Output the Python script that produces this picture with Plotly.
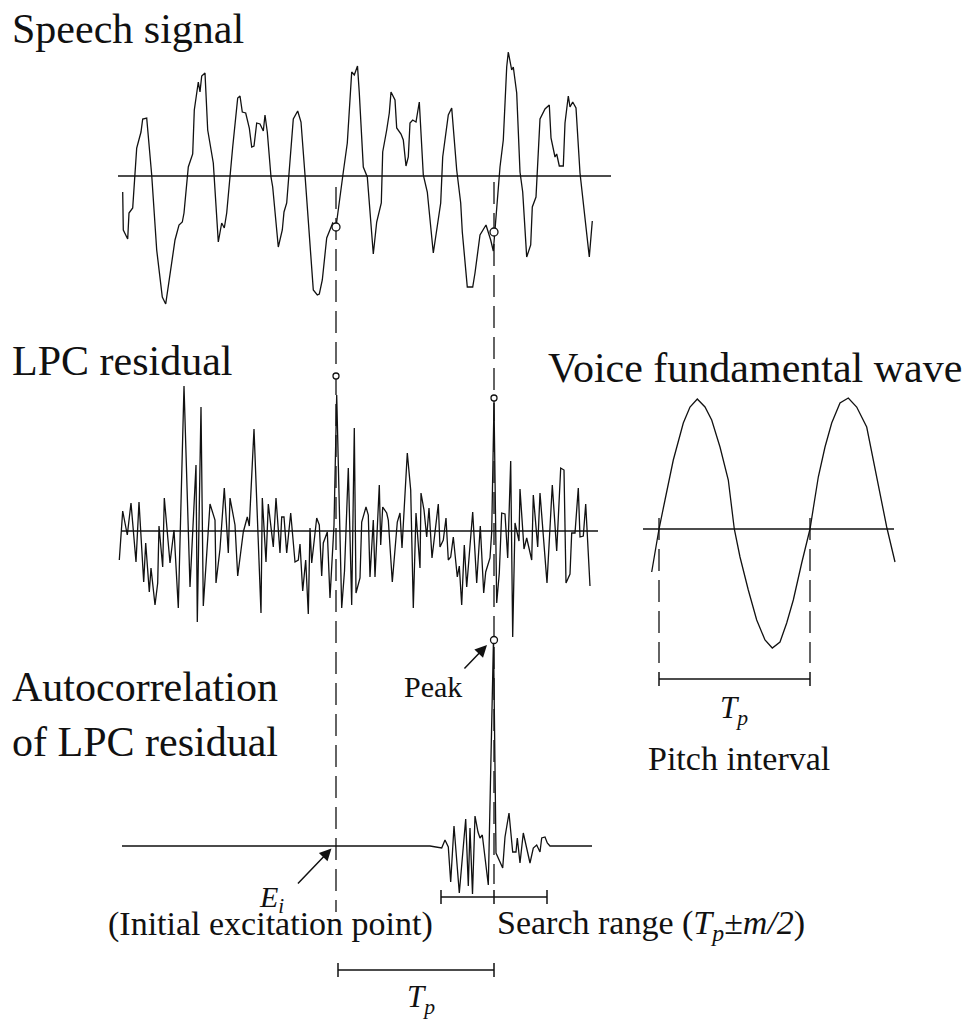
import plotly.graph_objects as go

FONT = "Liberation Serif, Times New Roman, DejaVu Serif, serif"
INK = "#111111"

# ---------------- data ----------------
# Speech signal: sample time and amplitude
speech_t = [0.7, 1.3, 5.7, 7, 10.7, 14.7, 19, 20.7, 24.7, 29.7,
            34.7, 40.3, 43.7, 48, 53, 57, 60.3, 62, 66.3, 70.7,
            72.3, 76.3, 78, 79.7, 83, 85.7, 91.3, 96.3, 99.7, 102.3,
            104.7, 110.7, 115.7, 118, 120.3, 123.7, 127.3, 129.7, 132, 134.7,
            138, 141.3, 143, 145.3, 149, 150.7, 156.3, 160.3, 162, 164.7,
            171.3, 175.7, 179, 183, 186.3, 191.3, 195.3, 197.3, 200.3, 204.7,
            210.7, 214, 221.3, 225.3, 229.7, 232.3, 235.5, 237.3, 241.3, 245.3,
            251.3, 254.7, 259.3, 260.7, 264.7, 267.3, 269, 273, 274.7, 279,
            281.3, 284, 286.3, 288, 290.7, 294, 297.3, 301.3, 305.3, 311.3,
            318.7, 320.7, 326.3, 329.7, 334.7, 338.7, 340.3, 345.3, 350.7, 353,
            358, 364, 368.7, 371.3, 378, 381.3, 384.7, 386.3, 389.7, 391.3,
            394.7, 398, 400.7, 404.7, 408.7, 410.3, 414, 418, 423, 427.3,
            429, 433, 434.7, 437.3, 441.3, 443, 446.3, 448, 450.7, 454,
            458, 463, 467.3, 470.3]
speech_v = [-16, -54, -63, -37, -32, 28, 44, 57, 58, 1,
            -74, -121, -128, -97, -64, -49, -46, -37, 9, 22,
            66, 94, 84, 100, 103, 46, 13, -66, -47, -52,
            -37, 29, 78, 80, 64, 63, 48, 29, 30, 53,
            52, 45, 61, 44, -1, -11, -71, -54, -36, -27,
            57, 65, 54, 1, -46, -114, -119, -118, -104, -62,
            -47, -51, 4, 33, 104, 101, 110, 83, 9, -1,
            -78, -46, -27, 24, 46, 63, 84, 76, 48, 42,
            36, 10, 19, 53, 56, 54, 74, 1, -16, -77,
            -27, 19, 61, 68, 6, -27, -56, -111, -111, -97,
            -59, -49, -64, -75, 9, 36, 109, 124, 106, 109,
            83, 4, -16, -81, -69, -31, -21, 57, 67, 71,
            38, 19, 22, 10, 10, 53, 80, 69, 74, 68,
            3, -44, -81, -45]

# LPC residual: (sample time, amplitude)
residual = [(-2.7, -29), (0.7, 20), (5.3, -4), (9, 28), (14, -31), (17, 29),
            (21.7, -51), (23.7, -12), (27.3, -61), (29, -37), (33, -74),
            (35.7, -52), (37, 5), (40.7, -36), (42.3, 33), (48, -32), (52, 1),
            (56.3, -77), (62, 145), (68, -56), (74, 66), (75.3, -91), (79, 124),
            (81.3, -75), (88, 27), (93, 11), (94, -52), (98, -18), (102.3, 43),
            (106.3, -22), (108, 33), (113, 6), (115.7, -45), (121.3, -1),
            (125.3, 14), (127.3, 5), (132, 102), (139, -82), (140.3, 33),
            (144, -31), (146.3, 27), (151.3, -16), (154, 33), (158, -22),
            (159.7, 14), (162, 14), (164.7, -22), (168.7, 18), (173, -31),
            (176.3, -29), (178, -13), (180.7, -60), (183.7, -29), (186.3, -83),
            (188, 3), (189.7, -32), (194.7, 13), (197.3, 6), (199.7, -45),
            (201.3, -12), (205.3, -1), (208, -67), (212, 6), (214.7, 136),
            (219.7, -77), (222.5, -40), (226.3, 63), (229.7, -74), (232.3, 103),
            (234, -62), (238, -47), (239.7, 9), (244, 24), (246.3, 16),
            (248, -46), (251.3, 11), (253, -46), (257.3, 46), (258.7, -14),
            (260.7, 24), (264.7, 18), (266.3, 11), (270.3, -51), (275.3, 9),
            (278, 18), (280, -17), (285.3, 78), (288.7, 41), (291.3, -77),
            (294, 18), (298, -37), (299, 38), (302, 21), (304.7, -6), (307, 23),
            (310, -27), (316.3, 27), (318, -16), (321.3, -9), (324, 13),
            (326.3, -29), (328.7, -26), (331.3, -6), (335.3, -46), (337.3, -35),
            (339.7, -74), (342.3, -14), (344.7, -56), (350.7, 19), (354.7, -52),
            (358.3, 5), (361.7, -62), (363.7, -41), (368, -27), (369.7, -1),
            (372, 128), (374.7, -72), (377.3, -42), (379.7, 18), (383, 17),
            (385.7, -27), (388.7, 70), (390.7, -106), (393, 8), (397, -10),
            (398, 42), (402, -18), (404.7, -7), (409.7, -29), (411.3, 36),
            (415.7, -16), (418, 38), (425, -52), (430.3, 46), (434.7, -20),
            (438.7, 63), (442, 61), (444, -52), (448, -43), (449.7, -2),
            (453, -2), (456.3, 43), (458, -6), (461.3, -5), (463.7, 27),
            (468, -55)]

# Autocorrelation of the LPC residual: (lag, value)
autocorr = [(0, 0), (308, 0), (319.7, -2), (323, 6), (326.3, -1), (328.7, -36),
            (332, 20), (337.3, -47), (343.7, 27), (346.3, -40), (348, 18),
            (350.5, -48), (353, 30), (356, 14), (358, 8), (360.3, 11),
            (366.3, -39), (371.5, 208), (374, -7), (376.3, -12), (380.7, -22),
            (383, 9), (387, 33), (390.7, -6), (394, -6), (395.3, 8), (398, -17),
            (401.3, 13), (404, 1), (408, -17), (411.3, -2), (414.7, 1),
            (418, -6), (419.7, 8), (423, 9), (425.3, 3), (428, 0), (470, 0)]

# Voice fundamental wave: (time, amplitude)
fundamental = [(-7.3, -43), (0, 0), (6, 29), (14.3, 69), (24.3, 106), (31, 122),
               (38.3, 130), (46, 122), (52.7, 109), (61, 82), (69.3, 49),
               (75.3, 0), (81, -28), (89.3, -61), (97.7, -91), (106, -111),
               (113.3, -119), (121, -113), (127.7, -94), (134.3, -71),
               (142.7, -34), (151, 0), (159.3, 52), (166, 82), (172.7, 106),
               (181, 126), (189.3, 131), (197.7, 122), (207.7, 102), (214.3, 69),
               (221, 36), (227.7, 2), (236, -33)]

excitation_t = 214          # E_i, initial excitation point
pitch_t = 372               # E_i + T_p, autocorrelation peak
search_half = 53            # m/2
speech_marks = [(214, -51), (372, -56)]
residual_marks = [(214, 155), (372, 133)]
autocorr_peak = (372, 206)
fund_period = (0, 151)      # two zero crossings one pitch interval apart

# ---------------- figure ----------------
W, H = 971, 1027
fig = go.Figure()

wave = dict(color=INK, width=1.3)
res_t, res_v = zip(*residual)
ac_t, ac_v = zip(*autocorr)
fu_t, fu_v = zip(*fundamental)

fig.add_trace(go.Scatter(x=speech_t, y=speech_v, mode="lines", line=wave,
                         xaxis="x2", yaxis="y2", hoverinfo="skip"))
fig.add_trace(go.Scatter(x=res_t, y=res_v, mode="lines", line=wave,
                         xaxis="x2", yaxis="y3", hoverinfo="skip"))
fig.add_trace(go.Scatter(x=ac_t, y=ac_v, mode="lines", line=wave,
                         xaxis="x2", yaxis="y4", hoverinfo="skip"))
fig.add_trace(go.Scatter(x=fu_t, y=fu_v, mode="lines", line=wave,
                         xaxis="x3", yaxis="y5", hoverinfo="skip"))

marker = dict(symbol="circle", color="white", line=dict(color=INK, width=1.3))
fig.add_trace(go.Scatter(x=[p[0] for p in speech_marks], y=[p[1] for p in speech_marks],
                         mode="markers", marker=dict(size=8, **marker),
                         xaxis="x2", yaxis="y2", hoverinfo="skip"))
fig.add_trace(go.Scatter(x=[p[0] for p in residual_marks], y=[p[1] for p in residual_marks],
                         mode="markers", marker=dict(size=6, **marker),
                         xaxis="x2", yaxis="y3", hoverinfo="skip"))
fig.add_trace(go.Scatter(x=[autocorr_peak[0]], y=[autocorr_peak[1]],
                         mode="markers", marker=dict(size=7, **marker),
                         xaxis="x2", yaxis="y4", hoverinfo="skip"))

shapes = []
base = dict(color=INK, width=1.5)
# zero lines of each panel
shapes.append(dict(type="line", xref="x2", yref="y2", x0=-4, x1=489, y0=0, y1=0, line=base))
shapes.append(dict(type="line", xref="x2", yref="y3", x0=-1, x1=476, y0=0, y1=0, line=base))
shapes.append(dict(type="line", xref="x3", yref="y5", x0=-16, x1=235, y0=0, y1=0, line=base))

dash = dict(color=INK, width=1.3, dash="22px,9px")
shapes.append(dict(type="line", xref="x2", yref="y", x0=excitation_t, x1=excitation_t,
                   y0=187, y1=912, line=dash, layer="below"))
shapes.append(dict(type="line", xref="x2", yref="y", x0=pitch_t, x1=pitch_t,
                   y0=182, y1=884, line=dash, layer="below"))
for u in fund_period:
    shapes.append(dict(type="line", xref="x3", yref="y", x0=u, x1=u,
                       y0=518, y1=663, line=dash))


def bracket(xref, a, b, y, ticks):
    out = [dict(type="line", xref=xref, yref="y", x0=a, x1=b, y0=y, y1=y, line=base)]
    for t in ticks:
        out.append(dict(type="line", xref=xref, yref="y", x0=t, x1=t,
                        y0=y - 7, y1=y + 7, line=base))
    return out


shapes += bracket("x3", fund_period[0], fund_period[1], 679, fund_period)
shapes += bracket("x2", pitch_t - search_half, pitch_t + search_half, 897,
                  [pitch_t - search_half, pitch_t, pitch_t + search_half])
shapes += bracket("x2", excitation_t + 2, pitch_t, 970, [excitation_t + 2, pitch_t])


def label(text, x, y_top, size, xanchor="left"):
    return dict(text=text, x=x, y=y_top, xref="x", yref="y", xanchor=xanchor,
                yanchor="top", showarrow=False,
                font=dict(family=FONT, size=size, color=INK))


annotations = [
    label("Speech signal", 10, 4, 42),
    label("LPC residual", 10, 336, 42),
    label("Voice fundamental wave", 546, 343, 42),
    label("Autocorrelation", 10, 662, 42),
    label("of LPC residual", 10, 717, 42),
    label("Peak", 464, 668, 30, "right"),
    label("<i>E</i><sub><i>i</i></sub>", 257, 878, 30),
    label("(Initial excitation point)", 106, 903, 34),
    label("Search range (<i>T</i><sub><i>p</i></sub>±<i>m/2</i>)", 495, 902, 34),
    label("<i>T</i><sub><i>p</i></sub>", 421, 977, 31, "center"),
    label("<i>T</i><sub><i>p</i></sub>", 734, 688, 31, "center"),
    label("Pitch interval", 739, 738, 34, "center"),
]

arrow = dict(text="", showarrow=True, arrowhead=2, arrowsize=1.6, arrowwidth=1.5,
             arrowcolor=INK, xref="x", yref="y", axref="x", ayref="y", standoff=0)
annotations.append(dict(x=331.5, y=848.5, ax=296.5, ay=885, **arrow))
annotations.append(dict(x=487, y=645, ax=463, ay=670, **arrow))

hidden = dict(visible=False, showgrid=False, zeroline=False, fixedrange=True)
fig.update_layout(
    width=W, height=H, margin=dict(l=0, r=0, t=0, b=0),
    paper_bgcolor="white", plot_bgcolor="white", showlegend=False,
    xaxis=dict(range=[0, W], **hidden),
    yaxis=dict(range=[H, 0], **hidden),
    xaxis2=dict(range=[-122, W - 122], overlaying="x", **hidden),
    xaxis3=dict(range=[-659, W - 659], overlaying="x", **hidden),
    yaxis2=dict(range=[176 - H, 176], overlaying="y", **hidden),
    yaxis3=dict(range=[531 - H, 531], overlaying="y", **hidden),
    yaxis4=dict(range=[846 - H, 846], overlaying="y", **hidden),
    yaxis5=dict(range=[529 - H, 529], overlaying="y", **hidden),
    shapes=shapes, annotations=annotations,
)

fig.write_html("out.html")
